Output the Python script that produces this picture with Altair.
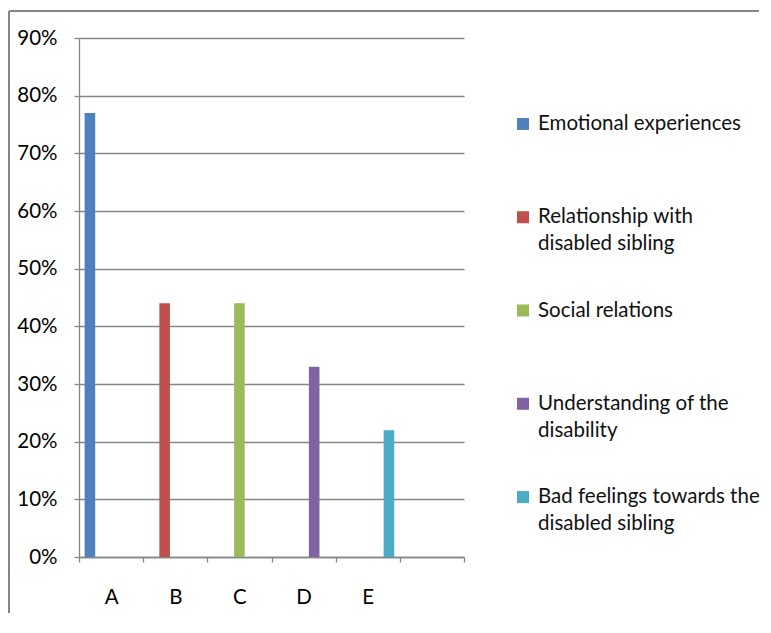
import altair as alt
import pandas as pd

# ---- data ----
categories = ["A", "B", "C", "D", "E", ""]
bar_categories = ["A", "B", "C", "D", "E"]
series = [
    "Emotional experiences",
    "Relationship with disabled sibling",
    "Social relations",
    "Understanding of the disability",
    "Bad feelings towards the disabled sibling",
]
legend_labels = [
    "Emotional experiences",
    "Relationship with\ndisabled sibling",
    "Social relations",
    "Understanding of the\ndisability",
    "Bad feelings towards the\ndisabled sibling",
]
values = [0.77, 0.44, 0.44, 0.33, 0.22]
colors = ["#4F81BD", "#C0504D", "#9BBB59", "#8064A2", "#4BACC6"]
y_ticks = [0, 0.1, 0.2, 0.3, 0.4, 0.5, 0.6, 0.7, 0.8, 0.9]

FONT = "Lato"
FS = 20.5
GRAY = "#868686"

bars_df = pd.DataFrame({"cat": bar_categories, "series": series, "value": values})
legend_df = pd.DataFrame({"series": series, "label": legend_labels})

color_scale = alt.Scale(domain=series, range=colors)

W, H = 385, 519

bars = alt.Chart(bars_df).mark_bar(strokeWidth=0).encode(
    x=alt.X(
        "cat:N",
        scale=alt.Scale(domain=categories, paddingInner=0, paddingOuter=0),
        axis=alt.Axis(
            title=None, labelAngle=0, tickBand="extent", tickSize=5,
            tickColor=GRAY, domainColor=GRAY, domainWidth=1.3, tickWidth=1.3,
            labelFont=FONT, labelFontSize=FS, labelColor="#000000",
            labelPadding=25, grid=False,
        ),
    ),
    xOffset=alt.XOffset(
        "series:N", scale=alt.Scale(domain=series, paddingOuter=0.53, paddingInner=0)
    ),
    y=alt.Y(
        "value:Q",
        scale=alt.Scale(domain=[0, 0.9], nice=False),
        axis=alt.Axis(
            title=None, values=y_ticks, format=".0%", tickSize=5,
            tickColor=GRAY, domainColor=GRAY, domainWidth=1.3, tickWidth=1.3,
            grid=True, gridColor=GRAY, gridWidth=1.3,
            labelFont=FONT, labelFontSize=FS, labelColor="#000000",
            labelPadding=17,
        ),
    ),
    color=alt.Color("series:N", scale=color_scale, legend=None),
)

border_top = alt.Chart(bars_df).mark_rule(color=GRAY, strokeWidth=1.3).encode(
    x=alt.value(-70), x2=alt.value(680), y=alt.value(-27)
)
border_left = alt.Chart(bars_df).mark_rule(color=GRAY, strokeWidth=1.3).encode(
    x=alt.value(-70), y=alt.value(-27), y2=alt.value(575)
)

main = alt.layer(border_top, border_left, bars).properties(width=W, height=H)

leg_y = alt.Y("series:N", scale=alt.Scale(domain=series, type="point", padding=0.9), axis=None)

leg_sq = alt.Chart(legend_df).mark_square(size=144, opacity=1, strokeWidth=0, yOffset=2).encode(
    x=alt.value(0), y=leg_y, color=alt.Color("series:N", scale=color_scale, legend=None)
)
leg_txt = alt.Chart(legend_df).mark_text(
    align="left", baseline="alphabetic", dx=15, dy=8, font=FONT, fontSize=FS,
    lineBreak="\n", lineHeight=27, color="#111111",
).encode(x=alt.value(0), y=leg_y, text="label:N")

legend = alt.layer(leg_sq, leg_txt).properties(width=200, height=541)

chart = alt.hconcat(main, legend, spacing=59, bounds="flush").properties(
    padding={"left": 0, "top": 2, "right": 0, "bottom": 0}
).configure_view(stroke=None)

chart.save("out.html", embed_options={"renderer": "svg", "actions": False})
